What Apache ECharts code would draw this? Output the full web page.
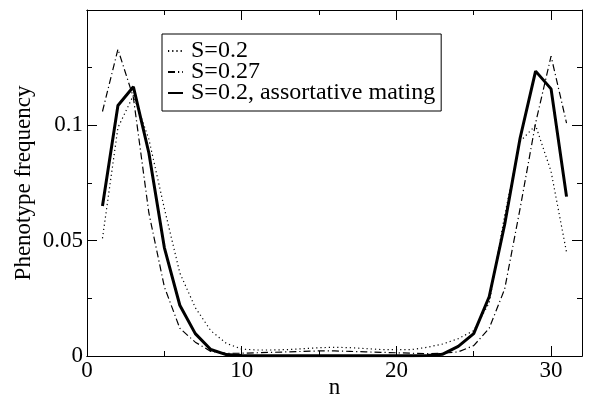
<!DOCTYPE html>
<html>
<head>
<meta charset="utf-8">
<script src="https://cdn.jsdelivr.net/npm/echarts@6/dist/echarts.min.js"></script>
<style>
  html, body { margin: 0; padding: 0; background: #fff; }
  #chart { width: 589px; height: 394px; }
</style>
</head>
<body>
<div id="chart"></div>
<script>
// phenotype frequency vs n, three runs
const nValues = [1, 2, 3, 4, 5, 6, 7, 8, 9, 10, 11, 12, 13, 14, 15, 16, 17, 18, 19, 20, 21, 22, 23, 24, 25, 26, 27, 28, 29, 30, 31];

const s02 = [0.051, 0.099, 0.113, 0.094, 0.064, 0.036, 0.021, 0.011, 0.0055, 0.0030, 0.0026, 0.0026, 0.0028, 0.0032, 0.0036, 0.0038, 0.0036, 0.0032, 0.0028, 0.0027, 0.0028, 0.0038, 0.0052, 0.0075, 0.011, 0.023, 0.061, 0.093, 0.100, 0.080, 0.045];
const s027 = [0.106, 0.133, 0.112, 0.062, 0.030, 0.012, 0.006, 0.002, 0.0012, 0.0012, 0.0014, 0.0016, 0.0018, 0.0020, 0.0022, 0.0022, 0.0020, 0.0018, 0.0016, 0.0014, 0.0012, 0.0010, 0.0012, 0.0018, 0.0045, 0.012, 0.029, 0.064, 0.101, 0.130, 0.101];
const s02Assort = [0.065, 0.1086, 0.1167, 0.088, 0.047, 0.022, 0.0097, 0.0028, 0.0006, 0.0002, 0.0001, 0.0001, 0.0001, 0.0001, 0.0001, 0.0001, 0.0001, 0.0001, 0.0001, 0.0001, 0.0001, 0.0002, 0.0008, 0.0042, 0.0097, 0.0257, 0.057, 0.0945, 0.1235, 0.1158, 0.0691];

const xMajorTicks = [0, 10, 20, 30];
const xMinorTicks = [5, 15, 25];

const FONT = 'Liberation Serif';

const chart = echarts.init(document.getElementById('chart'));

const pairs = arr => nValues.map((n, i) => [n, arr[i]]);

const frameLine = { show: true, onZero: false, lineStyle: { color: '#000', width: 1 } };

function xAxisDef(position, ticks, len, labels, extra) {
  return Object.assign({
    type: 'value',
    position: position,
    min: 0,
    max: 32,
    axisLine: frameLine,
    axisTick: { show: true, inside: true, length: len, customValues: ticks, lineStyle: { color: '#000' } },
    axisLabel: labels
      ? { show: true, customValues: xMajorTicks, color: '#000', fontFamily: FONT, fontSize: 23, margin: 3 }
      : { show: false },
    splitLine: { show: false }
  }, extra || {});
}

function yAxisDef(position, labels, extra) {
  return Object.assign({
    type: 'value',
    position: position,
    min: 0,
    max: 0.15,
    interval: 0.05,
    axisLine: frameLine,
    axisTick: { show: true, inside: true, length: 10, lineStyle: { color: '#000' } },
    minorTick: { show: true, splitNumber: 2, length: 5, lineStyle: { color: '#000' } },
    axisLabel: labels
      ? {
          color: '#000', fontFamily: FONT, fontSize: 23, margin: 4,
          formatter: v => (v > 0.14 ? '' : String(Math.round(v * 100) / 100))
        }
      : { show: false },
    splitLine: { show: false }
  }, extra || {});
}

const option = {
  backgroundColor: '#fff',
  animation: false,
  grid: { left: 87, right: 7, top: 10, bottom: 38, containLabel: false, outerBoundsMode: 'none' },
  legend: {
    orient: 'vertical',
    left: 162,
    top: 34,
    padding: [5, 6, 6, 5],
    itemWidth: 15,
    itemHeight: 18,
    itemGap: -3,
    // hide the marker circle, keep only the line sample
    itemStyle: { opacity: 0 },
    backgroundColor: '#fff',
    borderColor: '#000',
    borderWidth: 1,
    borderRadius: 0,
    textStyle: { color: '#000', fontFamily: FONT, fontSize: 24, lineHeight: 21, padding: [0, 0, 0, 3] },
    data: ['S=0.2', 'S=0.27', 'S=0.2, assortative mating']
  },
  xAxis: [
    xAxisDef('bottom', xMajorTicks, 10, true, {
      name: 'n', nameLocation: 'middle', nameGap: 20, nameMoveOverlap: false,
      nameTextStyle: { color: '#000', fontFamily: FONT, fontSize: 23 }
    }),
    xAxisDef('bottom', xMinorTicks, 5, false),
    xAxisDef('top', xMajorTicks, 10, false),
    xAxisDef('top', xMinorTicks, 5, false)
  ],
  yAxis: [
    yAxisDef('left', true, {
      name: 'Phenotype frequency', nameLocation: 'middle', nameGap: 52, nameMoveOverlap: false,
      nameTextStyle: { color: '#000', fontFamily: FONT, fontSize: 23 }
    }),
    yAxisDef('right', false)
  ],
  series: [
    {
      name: 'S=0.2',
      type: 'line',
      data: pairs(s02),
      symbol: 'none',
      lineStyle: { color: '#000', width: 1.2, type: [1.2, 3] },
      itemStyle: { color: '#000' }
    },
    {
      name: 'S=0.27',
      type: 'line',
      data: pairs(s027),
      symbol: 'none',
      lineStyle: { color: '#000', width: 1.2, type: [7, 3, 1.2, 3] },
      itemStyle: { color: '#000' }
    },
    {
      name: 'S=0.2, assortative mating',
      type: 'line',
      data: pairs(s02Assort),
      symbol: 'none',
      lineStyle: { color: '#000', width: 3 },
      itemStyle: { color: '#000' }
    }
  ]
};

chart.setOption(option);
window.addEventListener('resize', () => chart.resize());
</script>
</body>
</html>
